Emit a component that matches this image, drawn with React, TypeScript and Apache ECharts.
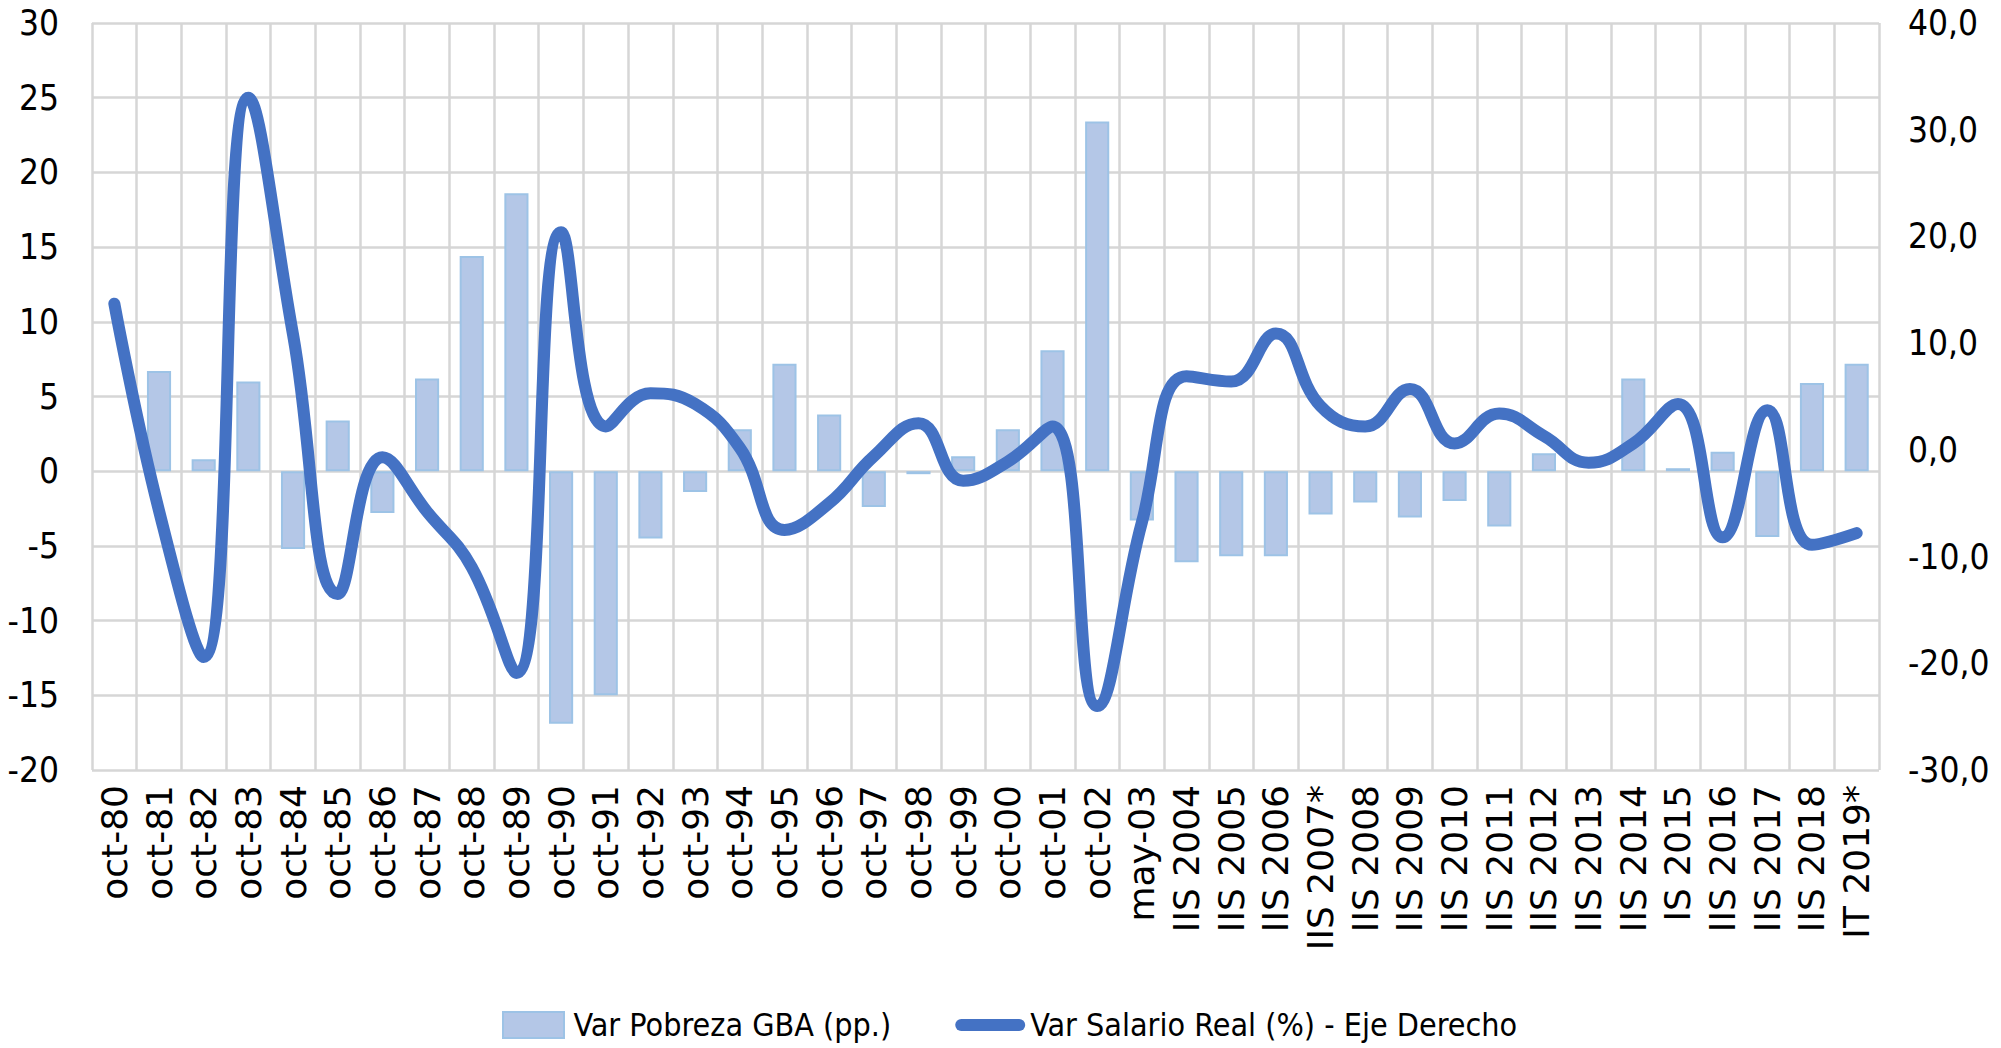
import React, { useEffect, useRef } from 'react';
import * as echarts from 'echarts';

const categories = [
  'oct-80', 'oct-81', 'oct-82', 'oct-83', 'oct-84', 'oct-85', 'oct-86', 'oct-87', 'oct-88', 'oct-89',
  'oct-90', 'oct-91', 'oct-92', 'oct-93', 'oct-94', 'oct-95', 'oct-96', 'oct-97', 'oct-98', 'oct-99',
  'oct-00', 'oct-01', 'oct-02', 'may-03', 'IIS 2004', 'IIS 2005', 'IIS 2006', 'IIS 2007*', 'IIS 2008',
  'IIS 2009', 'IIS 2010', 'IIS 2011', 'IIS 2012', 'IIS 2013', 'IIS 2014', 'IS 2015', 'IIS 2016',
  'IIS 2017', 'IIS 2018', 'IT 2019*',
];

const pobrezaGBA = [
  null, 6.7, 0.8, 6.0, -5.2, 3.4, -2.8, 6.2, 14.4, 18.6,
  -16.9, -15.0, -4.5, -1.4, 2.8, 7.2, 3.8, -2.4, -0.2, 1.0,
  2.8, 8.1, 23.4, -3.3, -6.1, -5.7, -5.7, -2.9, -2.1,
  -3.1, -2.0, -3.7, 1.2, null, 6.2, 0.2, 1.3,
  -4.4, 5.9, 7.2,
];

const salarioReal = [
  13.7, -5.7, -19.4, 33.0, 10.8, -13.5, -0.7, -5.8, -11.0, -20.9,
  20.4, 2.2, 5.3, 4.3, 0.2, -7.5, -5.0, -0.6, 2.5, -2.9,
  -1.1, 2.2, -24.0, -6.8, 6.9, 6.4, 10.9, 4.1, 2.2,
  5.7, 0.6, 3.4, 1.3, -1.2, 0.6, 4.3, -8.2,
  3.7, -8.9, -7.8,
];

const leftAxisRange = [-20, 30, 5];
const rightAxisRange = [-30, 40, 10];

const seriesNames = ['Var Pobreza GBA (pp.)', 'Var Salario Real (%) - Eje Derecho'];

const NARROW = "'DejaVu Sans Condensed', 'Liberation Sans Narrow', 'Noto Sans', sans-serif";
const WIDE = "'DejaVu Sans', Verdana, sans-serif";

export default function App() {
  const ref = useRef<HTMLDivElement>(null);

  useEffect(() => {
    if (!ref.current) return;
    const chart = echarts.init(ref.current, undefined, { renderer: 'svg' });
    const option = {
      animation: false,
      backgroundColor: '#ffffff',
      grid: { left: 92, right: 122, top: 23, bottom: 278, containLabel: false },
      legend: {
        top: 1002,
        left: 502,
        padding: 0,
        itemWidth: 70,
        itemHeight: 26,
        itemGap: 64,
        textStyle: { fontFamily: NARROW, fontSize: 32, lineHeight: 46, color: '#000' },
        data: [
          { name: seriesNames[0], icon: 'path://M0,0 H61 V26 H0 Z' },
          {
            name: seriesNames[1],
            icon: 'path://M6,0 H64 A6,6 0 0 1 64,12 H6 A6,6 0 0 1 6,0 Z',
          },
        ],
      },
      xAxis: {
        type: 'category',
        data: categories,
        boundaryGap: true,
        axisLine: { show: false },
        axisTick: { show: false },
        splitLine: { show: true, lineStyle: { color: '#D6D6D6', width: 2.5 } },
        axisLabel: {
          rotate: 90,
          interval: 0,
          margin: 15,
          fontFamily: WIDE,
          fontSize: 36,
          color: '#000',
        },
      },
      yAxis: [
        {
          type: 'value',
          min: leftAxisRange[0],
          max: leftAxisRange[1],
          interval: leftAxisRange[2],
          axisLine: { show: false },
          axisTick: { show: false },
          splitLine: { show: true, lineStyle: { color: '#D6D6D6', width: 2.5 } },
          axisLabel: { margin: 33, fontFamily: NARROW, fontSize: 35, color: '#000' },
        },
        {
          type: 'value',
          min: rightAxisRange[0],
          max: rightAxisRange[1],
          interval: rightAxisRange[2],
          axisLine: { show: false },
          axisTick: { show: false },
          splitLine: { show: false },
          axisLabel: {
            margin: 29,
            fontFamily: NARROW,
            fontSize: 35,
            color: '#000',
            formatter: (v: number) => v.toFixed(1).replace('.', ','),
          },
        },
      ],
      series: [
        {
          name: seriesNames[0],
          type: 'bar',
          yAxisIndex: 0,
          data: pobrezaGBA,
          barWidth: '54%',
          itemStyle: { color: '#B4C7E7', borderColor: '#9DC3E6', borderWidth: 2 },
        },
        {
          name: seriesNames[1],
          type: 'line',
          yAxisIndex: 1,
          data: salarioReal,
          smooth: 0.45,
          showSymbol: false,
          symbol: 'none',
          itemStyle: { color: '#4472C4' },
          lineStyle: { color: '#4472C4', width: 12, cap: 'round', join: 'round' },
          z: 3,
        },
      ],
    };
    chart.setOption(option);
    return () => chart.dispose();
  }, []);

  return (
    <div
      ref={ref}
      style={{ position: 'fixed', left: 0, top: 0, width: '2001px', height: '1048px' }}
    />
  );
}
